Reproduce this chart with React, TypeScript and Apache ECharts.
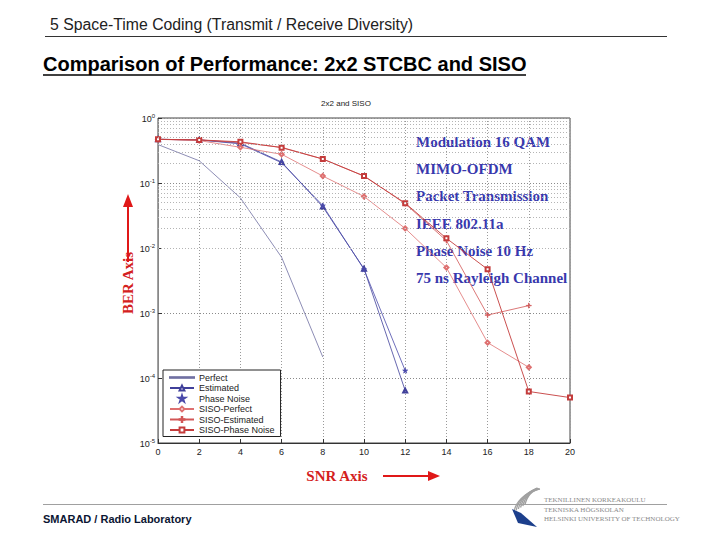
import React, { useEffect, useRef } from "react";
import * as echarts from "echarts";

// SNR axis positions (dB)
const snr = [0, 2, 4, 6, 8, 10, 12, 14, 16, 18, 20];

// Bit error rates per scheme, one value per SNR step
const perfect = [0.39, 0.22, 0.059, 0.0072, 2.1e-4];
const estimated = [0.47, 0.46, 0.41, 0.21, 0.043, 0.0048, 6.4e-5];
const phaseNoise = [0.47, 0.46, 0.4, 0.205, 0.045, 0.0047, 1.3e-4];
const sisoPerfect = [0.47, 0.45, 0.354, 0.277, 0.128, 0.062, 0.02, 0.005, 3.5e-4, 1.46e-4];
const sisoEstimated = [0.47, 0.46, 0.42, 0.354, 0.234, 0.128, 0.048, 0.013, 9.3e-4, 1.3e-3];
const sisoPhaseNoise = [0.47, 0.46, 0.43, 0.35, 0.234, 0.128, 0.049, 0.0141, 0.0047, 6.2e-5, 5.0e-5];

const notes = [
  "Modulation 16 QAM",
  "MIMO-OFDM",
  "Packet Transmission",
  "IEEE 802.11a",
  "Phase Noise 10 Hz",
  "75 ns Rayleigh Channel",
];

const decades = [-5, -4, -3, -2, -1];
const minorSteps = [2, 3, 4, 5, 6, 7, 8, 9];

const STAR = "path://M5,0 L6.2,3.6 L10,3.6 L6.9,5.8 L8.1,9.5 L5,7.2 L1.9,9.5 L3.1,5.8 L0,3.6 L3.8,3.6 Z";
const PLUS = "path://M4.5,0 L5.5,0 L5.5,4.5 L10,4.5 L10,5.5 L5.5,5.5 L5.5,10 L4.5,10 L4.5,5.5 L0,5.5 L0,4.5 L4.5,4.5 Z";
const BAR = "path://M0,4.6 L30,4.6 L30,5.4 L0,5.4 Z";

const pairs = (ys: number[]) => ys.map((y, i) => [snr[i], y]);

const SANS = '"Liberation Sans", Arial, sans-serif';
const SERIF = '"Liberation Serif", "DejaVu Serif", serif';

export default function App() {
  const ref = useRef<HTMLDivElement>(null);

  useEffect(() => {
    if (!ref.current) return;
    const chart = echarts.init(ref.current, undefined, { renderer: "svg" });

    const minorLines: { yAxis: number }[] = [];
    decades.forEach((d) => {
      minorSteps.forEach((m) => minorLines.push({ yAxis: m * Math.pow(10, d) }));
    });

    const lineSeries = (
      name: string,
      ys: number[],
      color: string,
      symbol: string,
      symbolSize: number,
      width: number
    ) => ({
      name,
      type: "line",
      data: pairs(ys),
      symbol,
      symbolSize,
      showSymbol: symbol !== "none",
      z: 3,
      lineStyle: { color, width },
      itemStyle: { color, borderColor: color, borderWidth: 0.7 },
    });

    const notesGraphic = notes.map((t, i) => ({
      type: "text",
      x: 416,
      y: 142 + i * 27.2,
      style: {
        text: t,
        fill: "#3838ad",
        font: `bold 15px ${SERIF}`,
        align: "left",
        verticalAlign: "middle",
      },
    }));

    const logoArcs = [0, 1, 2, 3, 4, 5].map((k) => ({
      type: "bezierCurve",
      shape: {
        x1: 514 + k * 2.2,
        y1: 512 - k * 1.5,
        cpx1: 516 + k * 2.5,
        cpy1: 498 - k * 1.5,
        x2: 537 + k * 0.6,
        y2: 488 + k * 0.2,
      },
      style: { stroke: "#a0a0a0", lineWidth: 1.3, fill: "none" },
    }));

    chart.setOption({
      animation: false,
      backgroundColor: "#ffffff",
      grid: { left: 158, top: 118, width: 412, height: 325, show: true, borderColor: "#444", borderWidth: 1 },
      xAxis: {
        type: "value",
        min: 0,
        max: 20,
        interval: 2,
        axisLine: { lineStyle: { color: "#333" } },
        axisTick: { inside: true, length: 4, lineStyle: { color: "#333" } },
        axisLabel: { fontSize: 9, color: "#222", margin: 4, fontFamily: SANS },
        splitLine: { show: true, lineStyle: { type: [1, 2], color: "#9a9a9a" } },
      },
      yAxis: {
        type: "log",
        logBase: 10,
        min: 1e-5,
        max: 1,
        splitNumber: 5,
        axisLine: { show: true, lineStyle: { color: "#888" } },
        axisTick: { inside: true, length: 4, lineStyle: { color: "#333" } },
        axisLabel: {
          margin: 3,
          formatter: (v: number) => `{b|10}{e|${Math.round(Math.log10(v))}}`,
          rich: {
            b: { fontSize: 9, color: "#222", verticalAlign: "bottom", fontFamily: SANS },
            e: { fontSize: 6, color: "#222", verticalAlign: "bottom", padding: [0, 0, 5, 0], fontFamily: SANS },
          },
        },
        splitLine: { show: true, lineStyle: { type: [1, 2], color: "#8a8a8a" } },
      },
      legend: {
        data: [
          { name: "Perfect", icon: BAR },
          "Estimated",
          { name: "Phase Noise", icon: STAR, itemStyle: { color: "#3a3aa0" } },
          "SISO-Perfect",
          "SISO-Estimated",
          "SISO-Phase Noise",
        ],
        orient: "vertical",
        left: 163,
        top: 370,
        itemGap: 1.5,
        itemWidth: 24,
        itemHeight: 6,
        padding: [3, 6, 2, 6],
        backgroundColor: "#ffffff",
        borderColor: "#222",
        borderWidth: 1,
        textStyle: { fontSize: 9, color: "#222", fontFamily: SANS },
      },
      graphic: [
        {
          type: "text",
          x: 50,
          y: 24,
          style: {
            text: "5 Space-Time Coding (Transmit / Receive Diversity)",
            fill: "#222",
            font: `15.8px ${SANS}`,
            verticalAlign: "middle",
          },
        },
        { type: "line", shape: { x1: 45, y1: 36.5, x2: 667, y2: 36.5 }, style: { stroke: "#333", lineWidth: 1 } },
        {
          type: "text",
          x: 43,
          y: 64,
          style: {
            text: "Comparison of Performance: 2x2 STCBC and SISO",
            fill: "#000",
            font: `bold 20px ${SANS}`,
            verticalAlign: "middle",
          },
        },
        { type: "line", shape: { x1: 43, y1: 75, x2: 526, y2: 75 }, style: { stroke: "#000", lineWidth: 1.3 } },
        {
          type: "text",
          x: 346,
          y: 103,
          style: { text: "2x2 and SISO", fill: "#222", font: `8px ${SANS}`, align: "center", verticalAlign: "middle" },
        },
        ...notesGraphic,
        {
          type: "text",
          x: 128,
          y: 283,
          rotation: Math.PI / 2,
          style: { text: "BER Axis", fill: "#d42020", font: `bold 15px ${SERIF}`, align: "center", verticalAlign: "middle" },
        },
        { type: "line", shape: { x1: 128, y1: 262, x2: 128, y2: 204 }, style: { stroke: "#e01818", lineWidth: 2 } },
        { type: "polygon", shape: { points: [[123, 207], [133, 207], [128, 194]] }, style: { fill: "#e01818" } },
        {
          type: "text",
          x: 337,
          y: 476,
          style: { text: "SNR Axis", fill: "#d42020", font: `bold 15px ${SERIF}`, align: "center", verticalAlign: "middle" },
        },
        { type: "line", shape: { x1: 383, y1: 476, x2: 430, y2: 476 }, style: { stroke: "#e01818", lineWidth: 2 } },
        { type: "polygon", shape: { points: [[428, 471], [428, 481], [440, 476]] }, style: { fill: "#e01818" } },
        { type: "line", shape: { x1: 43, y1: 504.5, x2: 667, y2: 504.5 }, style: { stroke: "#a0a0a0", lineWidth: 1 } },
        {
          type: "text",
          x: 43,
          y: 519,
          style: { text: "SMARAD / Radio Laboratory", fill: "#0b1533", font: `bold 11px ${SANS}`, verticalAlign: "middle" },
        },
        ...logoArcs,
        { type: "polygon", shape: { points: [[512, 509], [521, 513], [537, 527], [518, 523]] }, style: { fill: "#1c3f8c" } },
        {
          type: "text",
          x: 544,
          y: 500,
          style: { text: "TEKNILLINEN KORKEAKOULU", fill: "#8a8a8a", font: `7px ${SERIF}`, verticalAlign: "middle" },
        },
        {
          type: "text",
          x: 544,
          y: 510,
          style: { text: "TEKNISKA HÖGSKOLAN", fill: "#8a8a8a", font: `7px ${SERIF}`, verticalAlign: "middle" },
        },
        {
          type: "text",
          x: 544,
          y: 519,
          style: { text: "HELSINKI UNIVERSITY OF TECHNOLOGY", fill: "#8a8a8a", font: `7px ${SERIF}`, verticalAlign: "middle" },
        },
      ],
      series: [
        {
          name: "grid-minor",
          type: "line",
          data: [],
          z: 1,
          silent: true,
          markLine: {
            silent: true,
            symbol: ["none", "none"],
            label: { show: false },
            lineStyle: { type: [1, 2], color: "#b4b4b4", width: 1 },
            data: minorLines,
          },
        },
        lineSeries("Perfect", perfect, "#7070a2", "none", 0, 0.8),
        lineSeries("Estimated", estimated, "#40409a", "emptyTriangle", 4, 0.8),
        lineSeries("Phase Noise", phaseNoise, "#4a4aaa", STAR, 5, 0.8),
        lineSeries("SISO-Perfect", sisoPerfect, "#de7070", "emptyDiamond", 4, 0.8),
        lineSeries("SISO-Estimated", sisoEstimated, "#d25656", PLUS, 5, 0.8),
        lineSeries("SISO-Phase Noise", sisoPhaseNoise, "#c43c3c", "emptyRect", 4, 0.9),
      ],
    });

    return () => chart.dispose();
  }, []);

  return (
    <div
      ref={ref}
      style={{ position: "absolute", left: 0, top: 0, width: 720, height: 540, background: "#fff" }}
    />
  );
}
